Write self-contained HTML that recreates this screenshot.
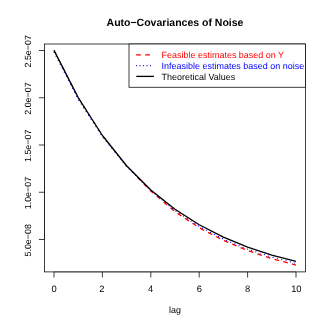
<!DOCTYPE html>
<html><head><meta charset="utf-8"><title>Auto-Covariances of Noise</title>
<style>
html,body{margin:0;padding:0;background:#fff;}
body{width:328px;height:327px;overflow:hidden;font-family:"Liberation Sans",sans-serif;}
svg{display:block;will-change:transform;}
svg text{font-family:"Liberation Sans",sans-serif;text-rendering:geometricPrecision;}
</style></head><body>
<svg width="328" height="327" viewBox="0 0 328 327">
<rect width="328" height="327" fill="#fff"/>
<rect x="44.5" y="44.0" width="261.00" height="227.90" fill="none" stroke="#000" stroke-width="0.75"/>
<line x1="54.00" y1="271.9" x2="296.00" y2="271.9" stroke="#000" stroke-width="0.75" stroke-opacity="0.55"/>
<line x1="54.00" y1="271.9" x2="54.00" y2="277.5" stroke="#000" stroke-width="0.75"/>
<text x="54.00" y="291.75" text-anchor="middle" font-size="9.4">0</text>
<line x1="102.40" y1="271.9" x2="102.40" y2="277.5" stroke="#000" stroke-width="0.75"/>
<text x="101.90" y="291.75" text-anchor="middle" font-size="9.4">2</text>
<line x1="150.80" y1="271.9" x2="150.80" y2="277.5" stroke="#000" stroke-width="0.75"/>
<text x="150.70" y="291.75" text-anchor="middle" font-size="9.4">4</text>
<line x1="199.20" y1="271.9" x2="199.20" y2="277.5" stroke="#000" stroke-width="0.75"/>
<text x="199.30" y="291.75" text-anchor="middle" font-size="9.4">6</text>
<line x1="247.60" y1="271.9" x2="247.60" y2="277.5" stroke="#000" stroke-width="0.75"/>
<text x="247.60" y="291.75" text-anchor="middle" font-size="9.4">8</text>
<line x1="296.00" y1="271.9" x2="296.00" y2="277.5" stroke="#000" stroke-width="0.75"/>
<text x="296.35" y="291.75" text-anchor="middle" font-size="9.4">10</text>
<line x1="44.5" y1="239.50" x2="44.5" y2="50.50" stroke="#000" stroke-width="0.75" stroke-opacity="0.55"/>
<line x1="38.9" y1="239.50" x2="44.5" y2="239.50" stroke="#000" stroke-width="0.75"/>
<text transform="translate(31.2,240.30) rotate(-90)" text-anchor="middle" font-size="8.94">5.0e−08</text>
<line x1="38.9" y1="192.25" x2="44.5" y2="192.25" stroke="#000" stroke-width="0.75"/>
<text transform="translate(31.2,193.05) rotate(-90)" text-anchor="middle" font-size="8.94">1.0e−07</text>
<line x1="38.9" y1="145.00" x2="44.5" y2="145.00" stroke="#000" stroke-width="0.75"/>
<text transform="translate(31.2,145.80) rotate(-90)" text-anchor="middle" font-size="8.94">1.5e−07</text>
<line x1="38.9" y1="97.75" x2="44.5" y2="97.75" stroke="#000" stroke-width="0.75"/>
<text transform="translate(31.2,98.55) rotate(-90)" text-anchor="middle" font-size="8.94">2.0e−07</text>
<line x1="38.9" y1="50.50" x2="44.5" y2="50.50" stroke="#000" stroke-width="0.75"/>
<text transform="translate(31.2,51.30) rotate(-90)" text-anchor="middle" font-size="8.94">2.5e−07</text>
<defs><clipPath id="cl"><rect x="0" y="0" width="136.28" height="327"/></clipPath><clipPath id="cr"><rect x="136.28" y="0" width="191.72" height="327"/></clipPath></defs>
<polyline clip-path="url(#cl)" points="296.00,265.07 271.80,258.63 247.60,250.50 223.40,240.38 199.20,227.69 175.00,211.60 150.80,191.04 126.60,166.04 102.40,135.34 78.20,97.42 54.00,50.15" fill="none" stroke="#ff0000" stroke-width="0.95" stroke-dasharray="4.7 4.3" stroke-dashoffset="0.5" stroke-linecap="butt" stroke-linejoin="round"/>
<polyline clip-path="url(#cr)" points="296.00,265.07 271.80,258.63 247.60,250.50 223.40,240.38 199.20,227.69 175.00,211.60 150.80,191.04 126.60,166.04 102.40,135.34 78.20,97.42 54.00,50.15" fill="none" stroke="#ff0000" stroke-width="1.3" stroke-dasharray="4.7 4.3" stroke-dashoffset="0.5" stroke-linecap="butt" stroke-linejoin="round"/>
<polyline points="296.00,263.27 271.80,257.03 247.60,249.20 223.40,239.18 199.20,226.49 175.00,210.50 150.80,190.64 126.60,166.44 102.40,136.79 78.20,99.37 54.00,52.20" fill="none" stroke="#0000ff" stroke-width="1.2" stroke-dasharray="0.01 4.49" stroke-dashoffset="3.25" stroke-linecap="round" stroke-linejoin="round"/>
<polyline points="54.00,50.40 78.20,97.67 102.40,135.49 126.60,165.74 150.80,189.94 175.00,209.30 199.20,224.79 223.40,237.18 247.60,247.10 271.80,255.03 296.00,261.37" fill="none" stroke="#000" stroke-width="1.3" stroke-linecap="butt" stroke-linejoin="round"/>
<rect x="129.0" y="44.0" width="176.5" height="43.25" fill="#fff" stroke="#000" stroke-width="0.75"/>
<line x1="136.1" y1="54.8" x2="153.9" y2="54.8" stroke="#ff0000" stroke-width="1.3" stroke-dasharray="4.8 4.3"/>
<line x1="136.6" y1="65.7" x2="153.0" y2="65.7" stroke="#0000ff" stroke-width="1.2" stroke-linecap="round" stroke-dasharray="0.01 3.45"/>
<line x1="136.3" y1="76.4" x2="153.9" y2="76.4" stroke="#000" stroke-width="1.3"/>
<text x="161.6" y="57.9" font-size="8.97" fill="#ff0000">Feasible estimates based on Y</text>
<text x="161.6" y="68.9" font-size="8.97" fill="#0000ff">Infeasible estimates based on noise</text>
<text x="161.6" y="79.5" font-size="8.97" fill="#000000">Theoretical Values</text>
<text x="175.00" y="25.5" text-anchor="middle" font-size="10.5" font-weight="bold">Auto−Covariances of Noise</text>
<text x="175.00" y="312.9" text-anchor="middle" font-size="8.94">lag</text>
</svg>
</body></html>
